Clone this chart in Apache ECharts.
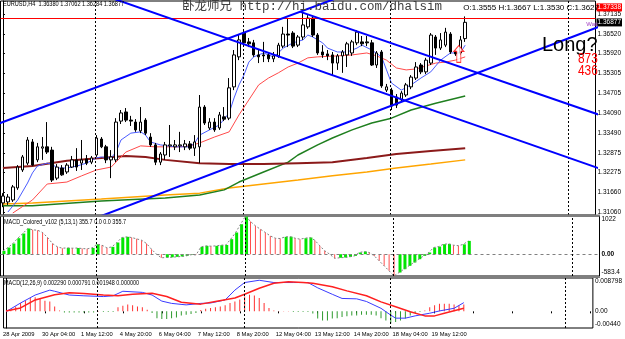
<!DOCTYPE html>
<html><head><meta charset="utf-8">
<script src="https://cdn.jsdelivr.net/npm/echarts@6/dist/echarts.min.js"></script>
<style>html,body{margin:0;padding:0;background:#fff}#c{width:625px;height:339px}</style>
</head><body><div id="c"></div>
<script>
// ---------- data ----------
const timeTicks = ['28 Apr 2009','30 Apr 04:00','1 May 12:00','4 May 20:00','6 May 04:00','7 May 12:00','8 May 20:00','12 May 04:00','13 May 12:00','14 May 20:00','18 May 04:00','19 May 12:00'];
const tickEvery = 8;
const barSlots = 121;
const priceTicks = [1.37135,1.36520,1.35920,1.35305,1.34705,1.34090,1.33490,1.32875,1.32275,1.31660,1.31060];
// [open, close, low, high]
const ohlc = [
[1.3134,1.3155,1.3121,1.3164],[1.3137,1.3152,1.3128,1.3161],[1.3143,1.3183,1.3137,1.3189],[1.3180,1.3244,1.3174,1.3250],
[1.3235,1.3275,1.3229,1.3281],[1.3256,1.3327,1.3250,1.3336],[1.3321,1.3250,1.3247,1.3330],[1.3266,1.3306,1.3259,1.3318],
[1.3302,1.3306,1.3266,1.3336],[1.3306,1.3290,1.3284,1.3382],[1.3296,1.3204,1.3198,1.3306],[1.3210,1.3244,1.3204,1.3253],
[1.3241,1.3220,1.3217,1.3250],[1.3229,1.3250,1.3223,1.3256],[1.3244,1.3266,1.3241,1.3278],[1.3266,1.3244,1.3232,1.3302],
[1.3256,1.3266,1.3235,1.3327],[1.3269,1.3256,1.3250,1.3281],[1.3259,1.3272,1.3253,1.3278],[1.3281,1.3333,1.3275,1.3342],
[1.3330,1.3306,1.3302,1.3336],[1.3306,1.3266,1.3256,1.3312],[1.3266,1.3275,1.3210,1.3296],[1.3266,1.3382,1.3259,1.3394],
[1.3385,1.3410,1.3376,1.3419],[1.3413,1.3388,1.3382,1.3425],[1.3388,1.3385,1.3370,1.3401],[1.3382,1.3358,1.3352,1.3391],
[1.3355,1.3382,1.3348,1.3428],[1.3388,1.3348,1.3342,1.3394],[1.3336,1.3312,1.3306,1.3348],[1.3312,1.3259,1.3250,1.3318],
[1.3259,1.3284,1.3250,1.3290],[1.3281,1.3312,1.3266,1.3321],[1.3309,1.3312,1.3275,1.3373],[1.3306,1.3312,1.3296,1.3327],
[1.3309,1.3312,1.3290,1.3352],[1.3306,1.3315,1.3296,1.3327],[1.3315,1.3302,1.3296,1.3324],[1.3302,1.3321,1.3278,1.3342],
[1.3306,1.3428,1.3256,1.3465],[1.3428,1.3379,1.3373,1.3434],[1.3364,1.3382,1.3358,1.3394],[1.3382,1.3358,1.3352,1.3394],
[1.3364,1.3404,1.3358,1.3413],[1.3398,1.3391,1.3385,1.3428],[1.3394,1.3487,1.3388,1.3517],[1.3490,1.3588,1.3480,1.3603],
[1.3582,1.3634,1.3572,1.3649],[1.3655,1.3625,1.3618,1.3664],[1.3628,1.3622,1.3612,1.3640],[1.3625,1.3588,1.3582,1.3634],
[1.3588,1.3582,1.3563,1.3603],[1.3588,1.3585,1.3566,1.3628],[1.3588,1.3576,1.3566,1.3594],[1.3576,1.3585,1.3566,1.3597],
[1.3585,1.3618,1.3579,1.3625],[1.3615,1.3652,1.3609,1.3674],[1.3652,1.3649,1.3612,1.3701],[1.3655,1.3615,1.3609,1.3661],
[1.3618,1.3643,1.3612,1.3649],[1.3643,1.3680,1.3634,1.3720],[1.3674,1.3701,1.3668,1.3710],[1.3701,1.3649,1.3643,1.3707],
[1.3649,1.3594,1.3588,1.3655],[1.3597,1.3588,1.3579,1.3618],[1.3591,1.3585,1.3572,1.3603],[1.3588,1.3563,1.3526,1.3597],
[1.3563,1.3585,1.3542,1.3591],[1.3585,1.3597,1.3533,1.3603],[1.3588,1.3622,1.3551,1.3628],[1.3594,1.3628,1.3585,1.3634],
[1.3625,1.3658,1.3618,1.3664],[1.3628,1.3622,1.3615,1.3646],[1.3628,1.3625,1.3615,1.3646],[1.3625,1.3557,1.3554,1.3634],
[1.3557,1.3594,1.3548,1.3600],[1.3597,1.3493,1.3487,1.3603],[1.3480,1.3490,1.3474,1.3499],[1.3480,1.3431,1.3419,1.3487],
[1.3459,1.3434,1.3425,1.3468],[1.3450,1.3471,1.3444,1.3477],[1.3465,1.3496,1.3459,1.3502],[1.3490,1.3520,1.3483,1.3526],
[1.3517,1.3551,1.3511,1.3566],[1.3557,1.3536,1.3529,1.3563],[1.3536,1.3572,1.3529,1.3579],[1.3563,1.3649,1.3557,1.3655],
[1.3643,1.3609,1.3588,1.3649],[1.3609,1.3634,1.3603,1.3655],[1.3618,1.3658,1.3612,1.3671],[1.3652,1.3597,1.3591,1.3658],
[1.3597,1.3591,1.3585,1.3603],[1.3594,1.3634,1.3588,1.3646],[1.3638,1.3688,1.3628,1.3706]
];
// moving averages: [bar index, price]
const maFast = [[1,1.3106],[3,1.3143],[5,1.3195],[6,1.3226],[7,1.3247],[9,1.3256],[10,1.3253],[11,1.3241],[13,1.3241],[15,1.3247],[17,1.3256],[19,1.3272],[20,1.3275],[22,1.3272],[23,1.3290],[24,1.3327],[26,1.3348],[28,1.3352],[29,1.3342],[30,1.3321],[32,1.3312],[35,1.3306],[38,1.3306],[39,1.3318],[40,1.3342],[42,1.3358],[44,1.3373],[46,1.3410],[47,1.3456],[48,1.3496],[49,1.3526],[50,1.3566],[51,1.3582],[53,1.3594],[55,1.3582],[56,1.3594],[57,1.3609],[59,1.3625],[61,1.3634],[62,1.3649],[63,1.3643],[65,1.3625],[66,1.3609],[68,1.3597],[70,1.3597],[72,1.3609],[73,1.3618],[75,1.3603],[77,1.3582],[78,1.3542],[79,1.3502],[81,1.3480],[83,1.3496],[85,1.3517],[87,1.3536],[89,1.3572],[91,1.3594],[93,1.3594],[94,1.3618]];
const maSlow = [[2,1.3103],[6,1.3143],[9,1.3192],[13,1.3198],[16,1.3217],[19,1.3235],[22,1.3244],[24,1.3275],[25,1.3290],[28,1.3309],[31,1.3306],[36,1.3306],[38,1.3309],[40,1.3318],[43,1.3336],[46,1.3352],[48,1.3404],[50,1.3450],[52,1.3496],[54,1.3517],[56,1.3533],[58,1.3551],[60,1.3563],[62,1.3579],[64,1.3582],[68,1.3585],[71,1.3588],[74,1.3594],[76,1.3585],[78,1.3572],[80,1.3548],[82,1.3542],[84,1.3545],[86,1.3554],[88,1.3563],[90,1.3566],[92,1.3572],[94,1.3582]];
const maMaroon = [[0,1.3241],[6,1.3247],[13,1.3263],[20,1.3272],[25,1.3278],[29,1.3275],[33,1.3266],[40,1.3256],[46,1.3253],[53,1.3253],[60,1.3256],[67,1.3259],[74,1.3272],[80,1.3284],[87,1.3293],[94,1.3302]];
const maOrange = [[0,1.3131],[6,1.3134],[20,1.3146],[33,1.3158],[40,1.3164],[46,1.3180],[53,1.3192],[60,1.3204],[67,1.3217],[74,1.3229],[80,1.3241],[87,1.3253],[94,1.3266]];
const maGreen = [[0,1.3125],[6,1.3125],[20,1.3140],[33,1.3149],[40,1.3158],[45,1.3174],[48,1.3198],[53,1.3229],[58,1.3259],[60,1.3281],[64,1.3312],[67,1.3333],[71,1.3358],[75,1.3379],[79,1.3394],[83,1.3419],[88,1.3440],[94,1.3462]];
// drawn trend lines (two anchor points each)
const trendUp1 = [[-2,1.3371],[70,1.3774]];
const trendDownA = [[15,1.3800],[125,1.3220]];
const trendDownB = [[60.5,1.3720],[125,1.3385]];
const trendUpC = [[20,1.3094],[125,1.3696]];
const alertLevel = 1.37338;
const lastPrice = 1.36877;
const separators = [18.8, 48.9, 78.8, 114.9];
const signalArrow = [[92.7, 1.3591]];
// MACD_Colored histogram
const macdColored = [89,178,285,428,553,687,651,642,580,446,285,196,160,169,160,165,152,143,169,267,241,169,196,312,446,464,446,410,374,285,134,0,-96,-89,-83,-71,-62,-45,-13,-18,196,223,214,223,241,246,402,580,802,1022,874,758,669,580,490,428,419,464,469,428,402,428,446,374,223,89,0,-110,-96,-88,-71,-45,45,71,45,-45,-178,-312,-446,-583.4,-490,-402,-312,-223,-134,-45,45,178,205,267,276,241,228,263,355.7];
const colTicks = [-583.4, 0, 1022];
const colTickText = ['-583.4', '0.00', '1022'];
// MACD(12,26,9)
const macdHist = [0,0.00045,0.0013,0.0022,0.0028,0.0035,0.0037,0.0035,0.0028,0.0026,0.0013,0.0002,-0.0003,-0.0003,-0.0003,-0.0003,-0.0003,-0.0003,-0.0003,0.0001,-0.00015,-0.00015,-0.00015,0.0011,0.0015,0.0018,0.0016,0.0013,0.0011,0.00045,-0.00045,-0.0018,-0.002,-0.002,-0.0018,-0.0016,-0.0011,-0.0009,-0.0007,-0.00045,0.00035,0.0007,0.0009,0.0011,0.0013,0.0016,0.0022,0.0026,0.0031,0.0039,0.0044,0.0042,0.0035,0.0022,0.0009,0.0002,0.0001,0.0001,0.0001,-0.0002,-0.0002,-0.0002,-0.0002,-0.0006,-0.0019,-0.0024,-0.0024,-0.0019,-0.0018,-0.0015,-0.0013,-0.0011,-0.0011,-0.0009,-0.0009,-0.0009,-0.0011,-0.0018,-0.0024,-0.0032,-0.0028,-0.0024,-0.0019,-0.0011,-0.00045,-0.0002,0.0002,0.0011,0.0016,0.002,0.002,0.002,0.0018,0.0016,0.0018];
const macdMain = [[0,-0.0001],[3,0.0022],[6,0.0043],[9,0.0056],[10,0.0053],[13,0.0043],[16,0.0041],[20,0.0039],[22,0.0041],[24,0.0053],[28,0.0050],[30,0.0043],[32,0.0027],[34,0.0021],[37,0.0017],[40,0.0021],[42,0.0022],[45,0.0030],[47,0.0056],[49,0.0076],[52,0.0082],[55,0.0076],[59,0.0076],[62,0.0076],[64,0.0062],[67,0.0045],[69,0.0034],[72,0.0033],[74,0.0026],[77,0.0008],[79,-0.0010],[80,-0.0018],[82,-0.0018],[84,-0.0012],[87,-0.0005],[89,0.0001],[92,0.0008],[94,0.00229]];
const macdSignal = [[0,0.0001],[3,0.0009],[6,0.0030],[10,0.0044],[13,0.0049],[16,0.0047],[20,0.0043],[23,0.0041],[26,0.0045],[30,0.0048],[33,0.0039],[36,0.0024],[40,0.0019],[43,0.0026],[47,0.0035],[49,0.0045],[52,0.0061],[55,0.0074],[58,0.0078],[61,0.0076],[63,0.0074],[67,0.0065],[70,0.0054],[74,0.0041],[77,0.0025],[80,0.0012],[83,-0.0001],[86,-0.0012],[88,-0.0012],[90,-0.0005],[94,0.00079]];
const macdTicks = [-0.0044, 0, 0.008798];
const macdTickText = ['-0.00440', '0.00', '0.008798'];

// ---------- chart ----------
const F = '"Liberation Sans", Arial, sans-serif';
const cats = Array.from({length: barSlots}, (_, i) => String(i));
const chart = echarts.init(document.getElementById('c'), null, {renderer: 'canvas'});

const grid = [
  {left: 0.5, top: 1, width: 599, height: 214},
  {left: 0.5, top: 216, width: 599, height: 60},
  {left: 0.5, top: 278, width: 599, height: 50}
].map(g => Object.assign({show: true, borderColor: '#000', borderWidth: 1, backgroundColor: '#fff'}, g));

const xAxis = [0, 1, 2].map(g => ({
  type: 'category', gridIndex: g, data: cats, boundaryGap: true,
  axisLine: {show: false},
  axisTick: {show: g === 2, interval: tickEvery - 1, length: 2, alignWithLabel: true, lineStyle: {color: '#000'}},
  axisLabel: g === 2 ? {show: true, interval: tickEvery - 1, formatter: (v, idx) => timeTicks[idx / tickEvery] || '',
      fontSize: 5.8, fontFamily: F, color: '#000', align: 'left', margin: 3, padding: [0, 0, 0, -3]} : {show: false},
  splitLine: {show: false}
})).concat([0, 1, 2].map(g => ({type: 'value', gridIndex: g, min: -0.5, max: barSlots - 0.5, show: false})));

const priceMin = 1.30969, priceMax = 1.37534;
const boxAxis = (val, bg) => ({
  type: 'value', gridIndex: 0, position: 'right', min: priceMin, max: priceMax,
  axisLine: {show: false}, axisTick: {show: false}, splitLine: {show: false},
  axisLabel: {customValues: [val], formatter: v => v.toFixed(5), fontSize: 6.5, fontFamily: F,
    color: '#fff', backgroundColor: bg, padding: [1, 1, 0, 1], margin: 1}
});

const yAxis = [
  {type: 'value', gridIndex: 0, position: 'right', min: priceMin, max: priceMax,
   axisLine: {show: true, lineStyle: {color: '#000'}},
   axisTick: {show: true, length: 2, customValues: priceTicks, lineStyle: {color: '#000'}},
   axisLabel: {customValues: priceTicks, formatter: v => v.toFixed(5), fontSize: 6.5, fontFamily: F, color: '#000', margin: 2},
   splitLine: {show: false}},
  {type: 'value', gridIndex: 1, position: 'right', min: -583.4, max: 1022,
   axisLine: {show: true, lineStyle: {color: '#000'}},
   axisTick: {show: false},
   axisLabel: {customValues: colTicks, formatter: v => { const t = colTickText[colTicks.indexOf(v)]; return v === 0 ? '{b|' + t + '}' : t; },
     rich: {b: {fontWeight: 'bold', fontSize: 6.5, fontFamily: F}},
     fontSize: 6.5, fontFamily: F, color: '#000', margin: 2, verticalAlignMaxLabel: 'top', verticalAlignMinLabel: 'bottom'},
   splitLine: {show: false}},
  {type: 'value', gridIndex: 2, position: 'right', min: -0.0044, max: 0.008798,
   axisLine: {show: true, lineStyle: {color: '#000'}},
   axisTick: {show: false},
   axisLabel: {customValues: macdTicks, formatter: v => macdTickText[macdTicks.indexOf(v)],
     fontSize: 6.5, fontFamily: F, color: '#000', margin: 2, verticalAlignMaxLabel: 'top', verticalAlignMinLabel: 'bottom'},
   splitLine: {show: false}},
  boxAxis(alertLevel, '#ff0000'),
  boxAxis(lastPrice, '#000000')
];

const line = (data, color, width, xi, yi, extra) => Object.assign({
  type: 'line', xAxisIndex: xi, yAxisIndex: yi, data, symbol: 'none', showSymbol: false,
  lineStyle: {color, width}, silent: true, animation: false, z: 3, clip: true
}, extra || {});

const sepMark = {silent: true, symbol: 'none', animation: false,
  lineStyle: {color: '#000', width: 1, type: [2, 2]}, label: {show: false},
  data: separators.map(s => ({xAxis: s}))};

const series = [
  {type: 'candlestick', xAxisIndex: 0, yAxisIndex: 0, data: ohlc, barWidth: 3, animation: false, silent: true, z: 4,
   itemStyle: {color: '#fff', color0: '#000', borderColor: '#000', borderColor0: '#000', borderWidth: 1},
   markLine: {silent: true, symbol: 'none', animation: false, label: {show: false}, data: [
     {yAxis: alertLevel, lineStyle: {color: '#ff0000', width: 1, type: 'solid'}}
   ]}},
  line(maOrange, '#ffa500', 1.5, 3, 0),
  line(maGreen, '#1f7f1f', 1.5, 3, 0),
  line(maMaroon, '#8b1a1a', 2, 3, 0),
  line(maSlow, '#ff4a4a', 1, 3, 0),
  line(maFast, '#4a5cff', 1, 3, 0),
  line(trendUp1, '#0000ff', 2, 3, 0, {z: 5, markLine: sepMark}),
  line(trendDownA, '#0000ff', 2, 3, 0, {z: 5}),
  line(trendDownB, '#0000ff', 2, 3, 0, {z: 5}),
  line(trendUpC, '#0000ff', 2, 3, 0, {z: 5}),
  {type: 'scatter', xAxisIndex: 3, yAxisIndex: 0, data: signalArrow, silent: true, animation: false, z: 6,
   symbol: 'path://M5,0 L10,6 L7,6 L7,17 L3,17 L3,6 L0,6 Z', symbolSize: [10, 17],
   itemStyle: {color: '#fff', borderColor: '#ff0000', borderWidth: 1}},
  // MACD colored panel
  {type: 'bar', xAxisIndex: 1, yAxisIndex: 1, barWidth: 3, barGap: '-100%', animation: false, silent: true,
   data: macdColored.map((v, i) => (i === 0 || v > macdColored[i - 1]) ? v : '-'), itemStyle: {color: '#00e600'}},
  {type: 'bar', xAxisIndex: 1, yAxisIndex: 1, barWidth: 1, barGap: '-100%', animation: false, silent: true,
   data: macdColored.map((v, i) => (i === 0 || v > macdColored[i - 1]) ? '-' : v), itemStyle: {color: '#ff4d4d'}},
  line(macdColored, '#808080', 1, 1, 1, {lineStyle: {color: '#808080', width: 1, type: [2, 2]},
    markLine: {silent: true, symbol: 'none', animation: false, label: {show: false},
      lineStyle: {color: '#808080', width: 1, type: [3, 3]}, data: [{yAxis: 0}]}}),
  line([], '#000', 1, 4, 1, {markLine: sepMark}),
  // MACD panel
  {type: 'bar', xAxisIndex: 2, yAxisIndex: 2, barWidth: 1, animation: false, silent: true,
   data: macdHist, itemStyle: {color: p => p.value >= 0 ? '#ff3030' : '#2e9a2e'}},
  line(macdMain, '#3a3aff', 1, 5, 2),
  line(macdSignal, '#ff2020', 1.5, 5, 2, {markLine: sepMark})
];

const txt = (x, y, text, font, fill, align, vAlign, extra) => Object.assign({
  type: 'text', x, y, silent: true, z: 200,
  style: {text, font, fill, textAlign: align || 'left', align: align || 'left',
          textVerticalAlign: vAlign || 'middle', verticalAlign: vAlign || 'middle'}
}, extra || {});

const graphic = [
  {type: 'rect', shape: {x: 0, y: 214.5, width: 600, height: 2}, style: {fill: '#7f7f7f'}, z: 150, silent: true},
  {type: 'rect', shape: {x: 0, y: 276, width: 600, height: 2}, style: {fill: '#7f7f7f'}, z: 150, silent: true},
  txt(3, 4.5, 'EURUSD,H4  1.36380 1.37062 1.36284 1.36877', '7px "Liberation Sans"', '#000', 'left', 'middle', {scaleX: 0.8}),
  txt(182, 7, '卧龙师兄 http://hi.baidu.com/dhalsim', '12.5px "Liberation Mono", "Noto Sans CJK SC"', '#404040'),
  txt(599, 8, 'O:1.3555 H:1.3667 L:1.3530 C:1.3627', '8px "Liberation Sans"', '#000', 'right'),
  txt(598, 24, 'Wait', '6px "Liberation Sans"', '#a040c0', 'right'),
  txt(542, 45, 'Long?', '20px "Liberation Sans"', '#000'),
  txt(578, 59, '873', '14px "Liberation Sans"', '#ff0000', 'left', 'middle', {scaleX: 0.85}),
  txt(578, 71, '436', '14px "Liberation Sans"', '#ff0000', 'left', 'middle', {scaleX: 0.85}),
  txt(4, 222, 'MACD_Colored_v102 (5,13,1) 355.7 0.0 0.0 355.7', '7px "Liberation Sans"', '#000', 'left', 'middle', {scaleX: 0.78}),
  txt(4, 283, 'MACD(12,26,9) 0.002290 0.000791 0.001948 0.000000', '7px "Liberation Sans"', '#000', 'left', 'middle', {scaleX: 0.78})
];

chart.setOption({animation: false, backgroundColor: '#fff', grid, xAxis, yAxis, series, graphic});
</script></body></html>
